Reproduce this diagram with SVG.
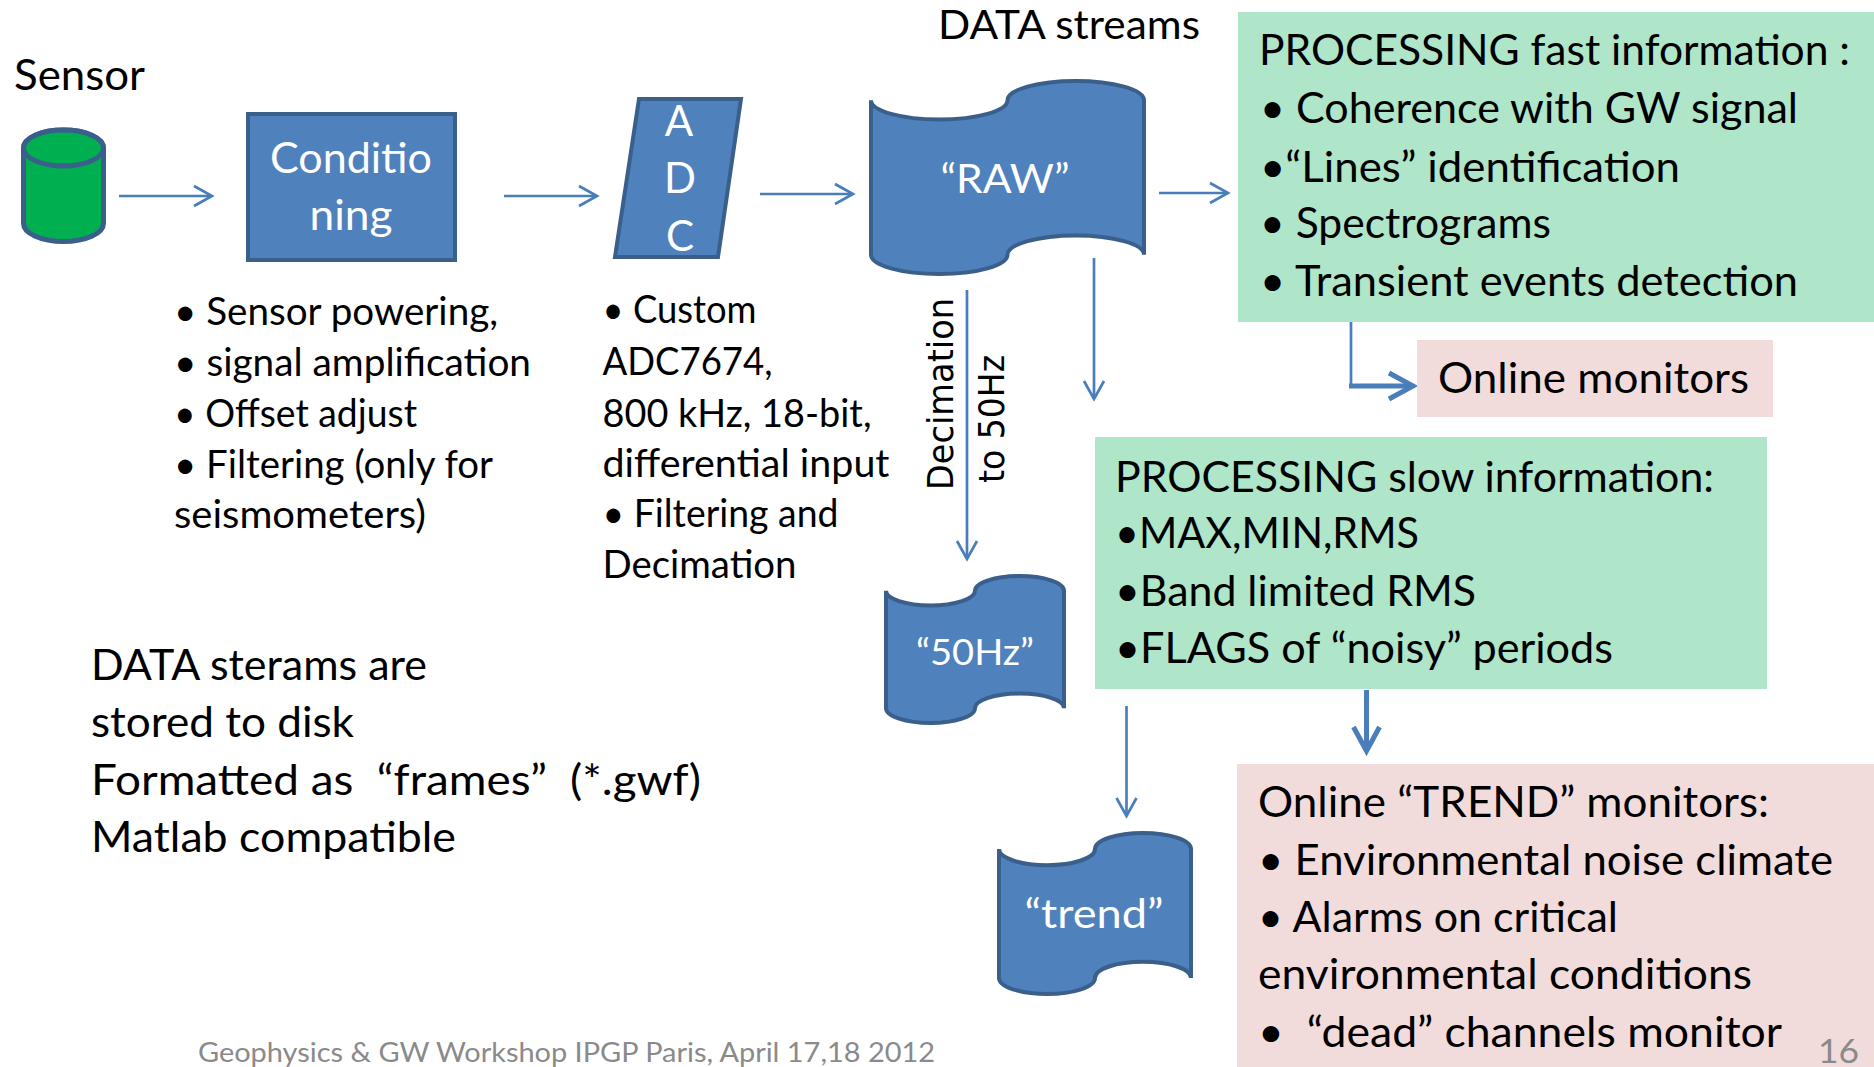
<svg xmlns="http://www.w3.org/2000/svg" width="1874" height="1067" viewBox="0 0 1874 1067">
<style>
text{font-family:Lato,"Liberation Sans","DejaVu Sans",sans-serif;fill:#000}
.big{font-size:42px}
.bul{font-size:38px}
.wl{fill:#fff;font-size:42px;text-anchor:middle}
.gray{fill:#8A8A8A}
.shape{fill:#4F81BD;stroke:#3A5F8B;stroke-width:4}
.ln{fill:none;stroke:#4A7EBB;stroke-width:2.7}
.lnt{fill:none;stroke:#4A7EBB;stroke-width:5}
.dec{font-family:"DejaVu Sans",Verdana,sans-serif;font-size:36px}
</style>
<defs>
<marker id="ah" markerUnits="userSpaceOnUse" viewBox="0 0 24 26" markerWidth="24" markerHeight="26" refX="21" refY="13" orient="auto">
<path d="M3,3 L21,13 L3,23" fill="none" stroke="#4A7EBB" stroke-width="2.7"/>
</marker>
<marker id="aht" markerUnits="userSpaceOnUse" viewBox="0 0 34 34" markerWidth="34" markerHeight="34" refX="28" refY="17" orient="auto">
<path d="M4,4 L28,17 L4,30" fill="none" stroke="#4A7EBB" stroke-width="5"/>
</marker>
</defs>
<rect width="1874" height="1067" fill="#fff"/>

<g id="connectors">
<path class="ln" d="M119,196 L212,196" marker-end="url(#ah)"/>
<path class="ln" d="M504,196 L597,196" marker-end="url(#ah)"/>
<path class="ln" d="M760,194 L853,194" marker-end="url(#ah)"/>
<path class="ln" d="M1159,193 L1228,193" marker-end="url(#ah)"/>
<path class="ln" d="M1094,258 L1094,399" marker-end="url(#ah)"/>
<path class="ln" d="M967,290 L967,559" marker-end="url(#ah)"/>
<path class="ln" d="M1126.5,706 L1126.5,816" marker-end="url(#ah)"/>
<path class="ln" d="M1351,322 L1351,386"/>
<path class="lnt" d="M1349,386 L1413,386" marker-end="url(#aht)"/>
<path class="lnt" d="M1366.5,690 L1366.5,751" marker-end="url(#aht)"/>
</g>

<g id="sensor">
<text class="big" x="14" y="90" textLength="131" lengthAdjust="spacingAndGlyphs">Sensor</text>
<path d="M23.5,148 L23.5,223.5 A40,18 0 0 0 103.5,223.5 L103.5,148 A40,18 0 0 0 23.5,148 Z" fill="#00B050" stroke="#3A5F8B" stroke-width="5"/>
<ellipse cx="63.5" cy="148" rx="40" ry="18" fill="#00B050" stroke="#3A5F8B" stroke-width="5"/>
</g>

<g id="conditioning">
<rect class="shape" x="248" y="114" width="207" height="146"/>
<text class="wl" x="351" y="173" textLength="162" lengthAdjust="spacingAndGlyphs">Conditio</text>
<text class="wl" x="351" y="230" textLength="83" lengthAdjust="spacingAndGlyphs">ning</text>
</g>

<g id="conditioning-notes">
<text class="bul" x="174" y="325" textLength="324" lengthAdjust="spacingAndGlyphs">• Sensor powering,</text>
<text class="bul" x="174" y="376" textLength="357" lengthAdjust="spacingAndGlyphs">• signal amplification</text>
<text class="bul" x="174" y="427" textLength="243" lengthAdjust="spacingAndGlyphs">• Offset adjust</text>
<text class="bul" x="174" y="478" textLength="319" lengthAdjust="spacingAndGlyphs">• Filtering (only for</text>
<text class="bul" x="174" y="528" textLength="252" lengthAdjust="spacingAndGlyphs">seismometers)</text>
</g>

<g id="adc">
<path class="shape" d="M639,99 L741,99 L718,257 L615,257 Z"/>
<text class="wl" x="679" y="136">A</text>
<text class="wl" x="680" y="193">D</text>
<text class="wl" x="680" y="251">C</text>
</g>

<g id="adc-notes">
<text class="bul" x="602.5" y="323" textLength="154" lengthAdjust="spacingAndGlyphs">• Custom</text>
<text class="bul" x="602.5" y="375" textLength="170" lengthAdjust="spacingAndGlyphs">ADC7674,</text>
<text class="bul" x="602.5" y="427" textLength="269" lengthAdjust="spacingAndGlyphs">800 kHz, 18-bit,</text>
<text class="bul" x="602.5" y="477" textLength="287" lengthAdjust="spacingAndGlyphs">differential input</text>
<text class="bul" x="602.5" y="527" textLength="236" lengthAdjust="spacingAndGlyphs">• Filtering and</text>
<text class="bul" x="602.5" y="578" textLength="194" lengthAdjust="spacingAndGlyphs">Decimation</text>
</g>

<g id="raw">
<text style="font-size:41px" x="938" y="39" textLength="262" lengthAdjust="spacingAndGlyphs">DATA streams</text>
<path class="shape" d="M871,100.3 A68.25,19.3 0 0 0 1007.5,100.3 A68.25,19.3 0 0 1 1144,100.3 L1144,254.7 A68.25,19.3 0 0 0 1007.5,254.7 A68.25,19.3 0 0 1 871,254.7 Z"/>
<text class="wl" style="font-size:40px" x="1005" y="193" textLength="129" lengthAdjust="spacingAndGlyphs">“RAW”</text>
</g>

<g id="decimation-label">
<text class="dec" transform="translate(953,490) rotate(-90)" x="0" y="0" textLength="192" lengthAdjust="spacingAndGlyphs">Decimation</text>
<text class="dec" transform="translate(1004,483) rotate(-90)" x="0" y="0" textLength="128" lengthAdjust="spacingAndGlyphs">to 50Hz</text>
</g>

<g id="fast-processing">
<rect x="1238" y="12" width="636" height="310" fill="#AFE5C9"/>
<text class="big" x="1259" y="65" textLength="591" lengthAdjust="spacingAndGlyphs">PROCESSING fast information :</text>
<text class="big" x="1260" y="123" textLength="538" lengthAdjust="spacingAndGlyphs">• Coherence with GW signal</text>
<text class="big" x="1260" y="182" textLength="420" lengthAdjust="spacingAndGlyphs">•“Lines” identification</text>
<text class="big" x="1260" y="238" textLength="291" lengthAdjust="spacingAndGlyphs">• Spectrograms</text>
<text class="big" x="1260" y="296" textLength="538" lengthAdjust="spacingAndGlyphs">• Transient events detection</text>
</g>

<g id="online-monitors">
<rect x="1417" y="340" width="356" height="77" fill="#F2DCDB"/>
<text class="big" x="1438" y="393" textLength="311" lengthAdjust="spacingAndGlyphs">Online monitors</text>
</g>

<g id="slow-processing">
<rect x="1095" y="437" width="672" height="252" fill="#AFE5C9"/>
<text class="big" x="1115" y="492" textLength="599" lengthAdjust="spacingAndGlyphs">PROCESSING slow information:</text>
<text class="big" x="1115" y="548" textLength="304" lengthAdjust="spacingAndGlyphs">•MAX,MIN,RMS</text>
<text class="big" x="1115" y="606" textLength="361" lengthAdjust="spacingAndGlyphs">•Band limited RMS</text>
<text class="big" x="1115" y="663" textLength="498" lengthAdjust="spacingAndGlyphs">•FLAGS of “noisy” periods</text>
</g>

<g id="stream-50hz">
<path class="shape" d="M886,590.7 A44.5,14.7 0 0 0 975,590.7 A44.5,14.7 0 0 1 1064,590.7 L1064,708.3 A44.5,14.7 0 0 0 975,708.3 A44.5,14.7 0 0 1 886,708.3 Z"/>
<text class="wl" style="font-size:37px" x="975" y="665" textLength="118" lengthAdjust="spacingAndGlyphs">“50Hz”</text>
</g>

<g id="stream-trend">
<path class="shape" d="M999,849.1 A48,16.1 0 0 0 1095,849.1 A48,16.1 0 0 1 1191,849.1 L1191,977.9 A48,16.1 0 0 0 1095,977.9 A48,16.1 0 0 1 999,977.9 Z"/>
<text class="wl" style="font-size:41px" x="1094" y="928" textLength="139" lengthAdjust="spacingAndGlyphs">“trend”</text>
</g>

<g id="trend-monitors">
<rect x="1237" y="764" width="637" height="303" fill="#F2DCDB"/>
<text class="big" x="1258" y="817" textLength="511" lengthAdjust="spacingAndGlyphs">Online “TREND” monitors:</text>
<text class="big" x="1258" y="875" textLength="575" lengthAdjust="spacingAndGlyphs">• Environmental noise climate</text>
<text class="big" x="1258" y="932" textLength="360" lengthAdjust="spacingAndGlyphs">• Alarms on critical</text>
<text class="big" x="1258" y="989" textLength="494" lengthAdjust="spacingAndGlyphs">environmental conditions</text>
<text class="big" x="1258" y="1047" textLength="524" lengthAdjust="spacingAndGlyphs" xml:space="preserve">•  “dead” channels monitor</text>
</g>

<g id="storage-notes">
<text class="big" x="91" y="680" textLength="336" lengthAdjust="spacingAndGlyphs">DATA sterams are</text>
<text class="big" x="91" y="737" textLength="263" lengthAdjust="spacingAndGlyphs">stored to disk</text>
<text class="big" x="91" y="795" textLength="610" lengthAdjust="spacingAndGlyphs" xml:space="preserve">Formatted as  “frames”  (*.gwf)</text>
<text class="big" x="91" y="852" textLength="365" lengthAdjust="spacingAndGlyphs">Matlab compatible</text>
</g>

<g id="footer">
<text class="gray" style="font-size:27px" x="198" y="1062" textLength="737" lengthAdjust="spacingAndGlyphs">Geophysics &amp; GW Workshop IPGP Paris, April 17,18 2012</text>
<text class="gray" style="font-size:33px" x="1818" y="1063" textLength="41" lengthAdjust="spacingAndGlyphs">16</text>
</g>
</svg>
